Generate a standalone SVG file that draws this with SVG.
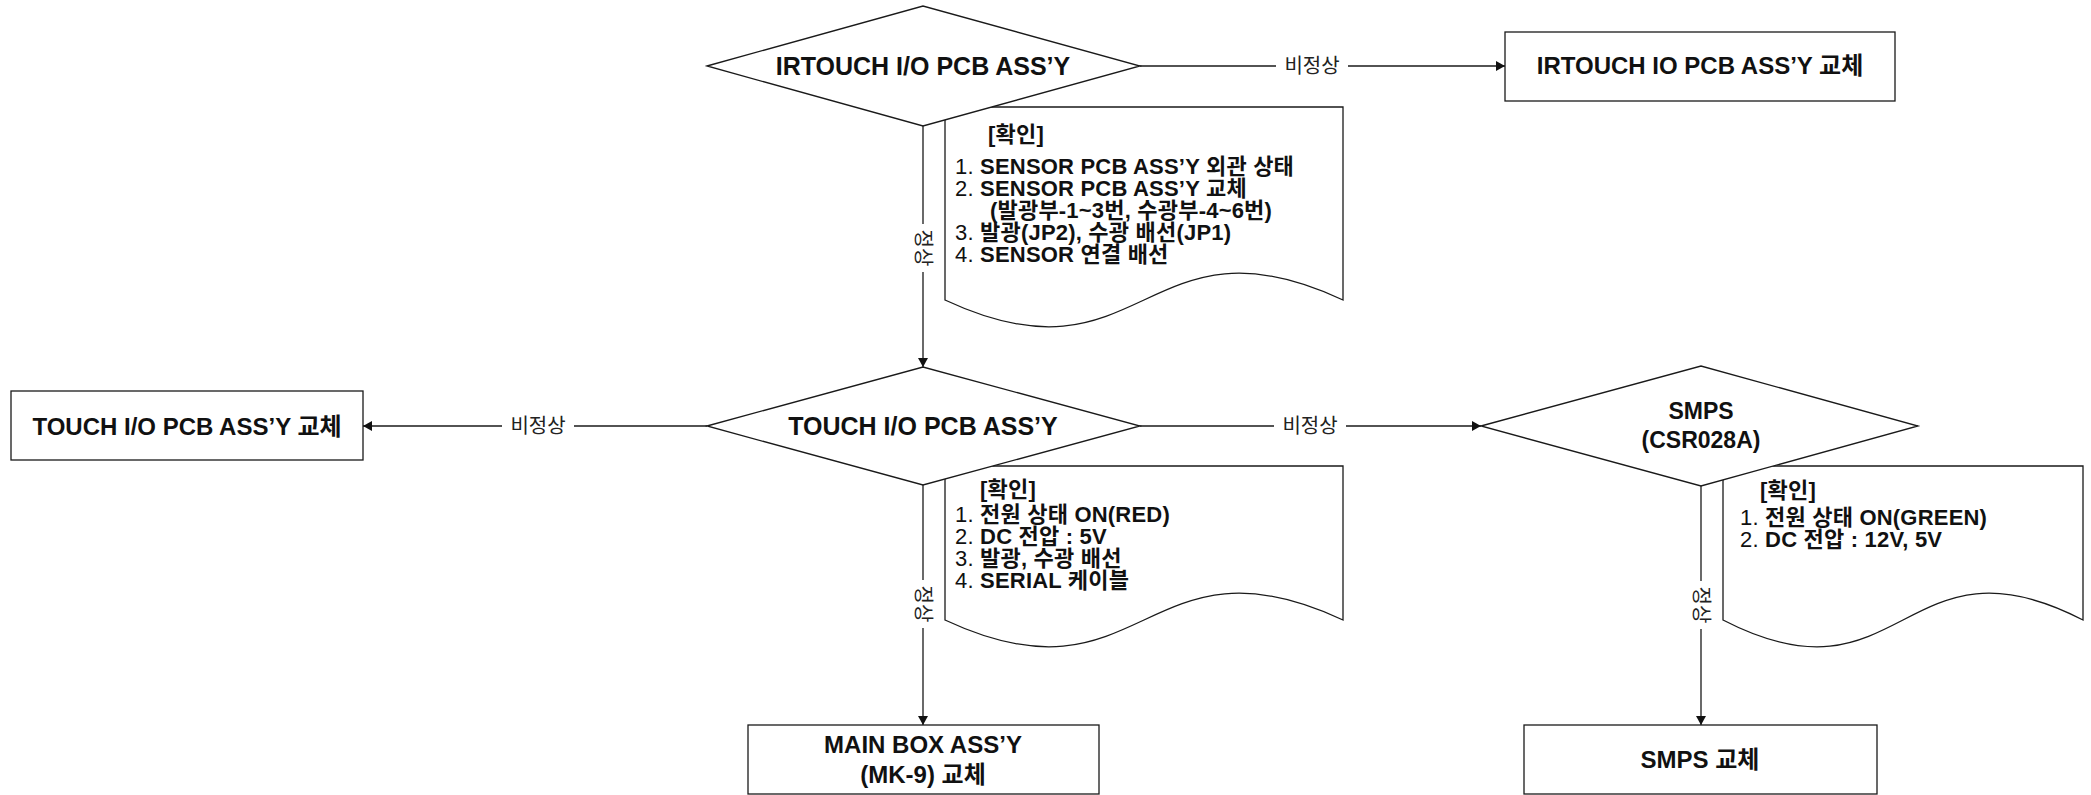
<svg xmlns="http://www.w3.org/2000/svg" width="2091" height="795" viewBox="0 0 2091 795">
<defs>
<style>
.shape{fill:#fff;stroke:#1a1a1a;stroke-width:1.3}
.ln{fill:none;stroke:#1a1a1a;stroke-width:1.3}
.t{font-family:"Liberation Sans","Noto Sans CJK KR",sans-serif;font-weight:bold;fill:#111}
.nt{font-family:"Liberation Sans","Noto Sans CJK KR",sans-serif;font-weight:bold;font-size:22px;fill:#111;letter-spacing:0.2px}
.num{font-weight:normal}
.lbl{font-family:"Noto Sans CJK KR","Liberation Sans",sans-serif;font-size:20px;fill:#222}
.bg{fill:#fff;stroke:none}
</style>
<marker id="arr" markerUnits="userSpaceOnUse" markerWidth="10" markerHeight="10" refX="9" refY="5" orient="auto">
<path d="M0,0 L9,5 L0,10 Z" fill="#111"/>
</marker>
</defs>
<rect width="2091" height="795" fill="#fff"/>

<g id="connectors">
<line class="ln" x1="1140" y1="66" x2="1505" y2="66" marker-end="url(#arr)"/>
<line class="ln" x1="923" y1="126" x2="923" y2="367" marker-end="url(#arr)"/>
<line class="ln" x1="707" y1="426" x2="363" y2="426" marker-end="url(#arr)"/>
<line class="ln" x1="1140" y1="426" x2="1481" y2="426" marker-end="url(#arr)"/>
<line class="ln" x1="923" y1="485" x2="923" y2="725" marker-end="url(#arr)"/>
<line class="ln" x1="1701" y1="486" x2="1701" y2="725" marker-end="url(#arr)"/>
<rect class="bg" x="1276" y="54" width="72" height="24"/>
<text class="lbl" x="1312" y="73" text-anchor="middle">비정상</text>
<rect class="bg" x="502" y="414" width="72" height="24"/>
<text class="lbl" x="538" y="433" text-anchor="middle">비정상</text>
<rect class="bg" x="1274" y="414" width="72" height="24"/>
<text class="lbl" x="1310" y="433" text-anchor="middle">비정상</text>
<rect class="bg" x="912" y="224" width="22" height="48"/>
<text class="lbl" transform="translate(923,248) rotate(90)" text-anchor="middle" dy="7">정상</text>
<rect class="bg" x="912" y="580" width="22" height="48"/>
<text class="lbl" transform="translate(923,604) rotate(90)" text-anchor="middle" dy="7">정상</text>
<rect class="bg" x="1690" y="581" width="22" height="48"/>
<text class="lbl" transform="translate(1701,605) rotate(90)" text-anchor="middle" dy="7">정상</text>
</g>

<g id="note1">
<path class="shape" d="M945,107 H1343 V300 C1144,207 1144,393 945,300 Z"/>
<text class="nt" x="988" y="142">[확인]</text>
<text class="nt" x="955" y="174"><tspan class="num">1. </tspan>SENSOR PCB ASS’Y 외관 상태</text>
<text class="nt" x="955" y="196"><tspan class="num">2. </tspan>SENSOR PCB ASS’Y 교체</text>
<text class="nt" x="990" y="218">(발광부-1~3번, 수광부-4~6번)</text>
<text class="nt" x="955" y="240"><tspan class="num">3. </tspan>발광(JP2), 수광 배선(JP1)</text>
<text class="nt" x="955" y="262"><tspan class="num">4. </tspan>SENSOR 연결 배선</text>
</g>

<g id="note2">
<path class="shape" d="M945,466 H1343 V620 C1144,527 1144,713 945,620 Z"/>
<text class="nt" x="980" y="497">[확인]</text>
<text class="nt" x="955" y="522"><tspan class="num">1. </tspan>전원 상태 ON(RED)</text>
<text class="nt" x="955" y="544"><tspan class="num">2. </tspan>DC 전압 : 5V</text>
<text class="nt" x="955" y="566"><tspan class="num">3. </tspan>발광, 수광 배선</text>
<text class="nt" x="955" y="588"><tspan class="num">4. </tspan>SERIAL 케이블</text>
</g>

<g id="note3">
<path class="shape" d="M1723,466 H2083 V620 C1903,527 1903,713 1723,620 Z"/>
<text class="nt" x="1760" y="498">[확인]</text>
<text class="nt" x="1740" y="525"><tspan class="num">1. </tspan>전원 상태 ON(GREEN)</text>
<text class="nt" x="1740" y="547"><tspan class="num">2. </tspan>DC 전압 : 12V, 5V</text>
</g>

<g id="irtouch-io">
<polygon class="shape" points="707,66 923,6 1140,66 923,126"/>
<text class="t" x="923" y="75" font-size="25" text-anchor="middle">IRTOUCH I/O PCB ASS’Y</text>
</g>

<g id="irtouch-replace">
<rect class="shape" x="1505" y="32" width="390" height="69"/>
<text class="t" x="1700" y="74" font-size="24" text-anchor="middle">IRTOUCH IO PCB ASS’Y 교체</text>
</g>

<g id="touch-io">
<polygon class="shape" points="707,426 923,367 1140,426 923,485"/>
<text class="t" x="923" y="435" font-size="25" text-anchor="middle">TOUCH I/O PCB ASS’Y</text>
</g>

<g id="touch-replace">
<rect class="shape" x="11" y="391" width="352" height="69"/>
<text class="t" x="187" y="435" font-size="24" text-anchor="middle">TOUCH I/O PCB ASS’Y 교체</text>
</g>

<g id="smps">
<polygon class="shape" points="1481,426 1701,366 1918,426 1701,486"/>
<text class="t" x="1701" y="419" font-size="23" text-anchor="middle">SMPS</text>
<text class="t" x="1701" y="448" font-size="23" text-anchor="middle">(CSR028A)</text>
</g>

<g id="mainbox-replace">
<rect class="shape" x="748" y="725" width="351" height="69"/>
<text class="t" x="923" y="753" font-size="24" text-anchor="middle">MAIN BOX ASS’Y</text>
<text class="t" x="923" y="783" font-size="24" text-anchor="middle">(MK-9) 교체</text>
</g>

<g id="smps-replace">
<rect class="shape" x="1524" y="725" width="353" height="69"/>
<text class="t" x="1700" y="768" font-size="24" text-anchor="middle">SMPS 교체</text>
</g>
</svg>
